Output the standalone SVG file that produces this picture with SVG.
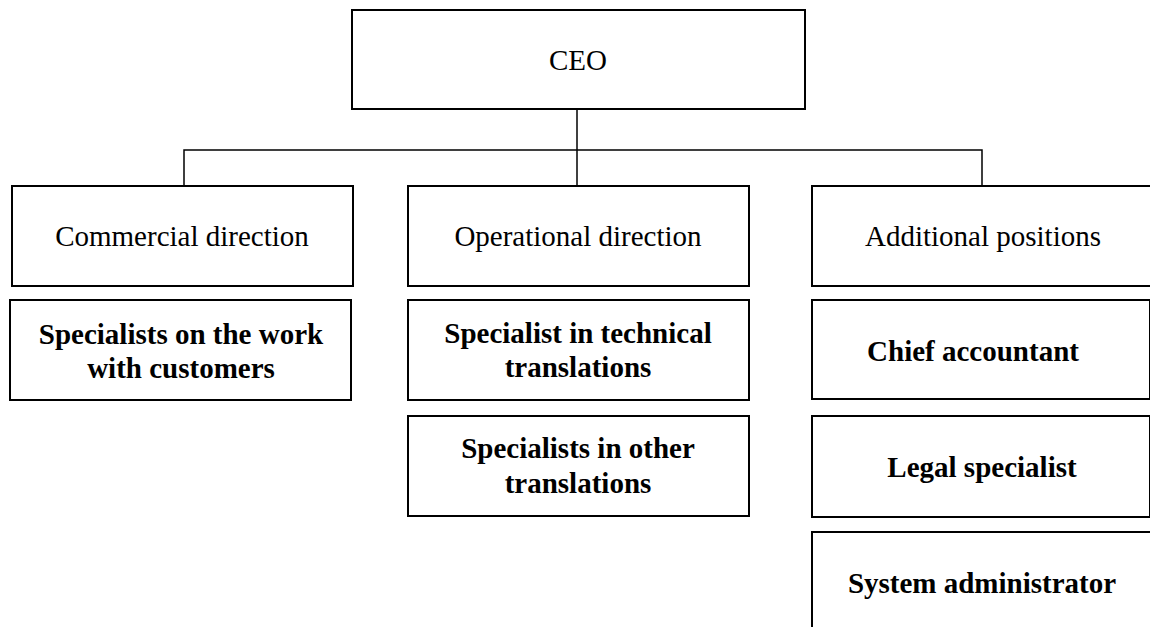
<svg xmlns="http://www.w3.org/2000/svg" width="1150" height="627" viewBox="0 0 1150 627">
<style>
.box{fill:#fff;stroke:#000;stroke-width:2}
.t{font-size:29px;text-anchor:middle;fill:#000}
.b{font-weight:bold}
.conn{fill:none;stroke:#000;stroke-width:1.5}
</style>
<rect width="1150" height="627" fill="#fff"/>
<g id="connectors">
<line class="conn" x1="577" y1="109" x2="577" y2="186"/>
<polyline class="conn" points="184,186 184,150 982,150 982,186"/>
</g>
<g font-family="Liberation Serif, Times New Roman, DejaVu Serif, serif">
<g id="ceo"><rect class="box" x="352" y="10" width="453" height="99"/><text class="t" x="578" y="70">CEO</text></g>
<g id="commercial"><rect class="box" x="12" y="186" width="341" height="100"/><text class="t" x="182" y="246">Commercial direction</text></g>
<g id="operational"><rect class="box" x="408" y="186" width="341" height="100"/><text class="t" x="578" y="246">Operational direction</text></g>
<g id="additional"><rect class="box" x="812" y="186" width="342" height="100"/><text class="t" x="983" y="246">Additional positions</text></g>
<g id="customers"><rect class="box" x="10" y="300" width="341" height="100"/><text class="t b" x="181" y="344">Specialists on the work</text><text class="t b" x="181" y="378">with customers</text></g>
<g id="technical"><rect class="box" x="408" y="300" width="341" height="100"/><text class="t b" x="578" y="343">Specialist in technical</text><text class="t b" x="578" y="377">translations</text></g>
<g id="other"><rect class="box" x="408" y="416" width="341" height="100"/><text class="t b" x="578" y="458">Specialists in other</text><text class="t b" x="578" y="493">translations</text></g>
<g id="accountant"><rect class="box" x="812" y="300" width="338" height="99"/><text class="t b" x="973" y="361">Chief accountant</text></g>
<g id="legal"><rect class="box" x="812" y="416" width="338" height="101"/><text class="t b" x="982" y="477">Legal specialist</text></g>
<g id="sysadmin"><rect class="box" x="812" y="532" width="342" height="100"/><text class="t b" x="982" y="593">System administrator</text></g>
</g>
</svg>
